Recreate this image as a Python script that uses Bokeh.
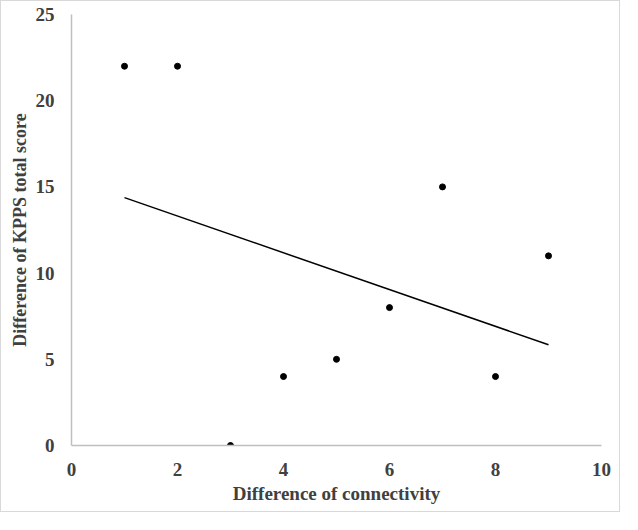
import numpy as np
from bokeh.plotting import figure
from bokeh.models import Range1d, FixedTicker, ColumnDataSource
from bokeh.embed import file_html
from bokeh.resources import INLINE

# Data
x_vals = [1, 2, 3, 4, 5, 6, 7, 8, 9]
y_vals = [22, 22, 0, 4, 5, 8, 15, 4, 11]
x_ticks = [0, 2, 4, 6, 8, 10]
y_ticks = [0, 5, 10, 15, 20, 25]
x_title = "Difference of connectivity"
y_title = "Difference of KPPS total score"

FONT = "Liberation Serif"
TXT = "#404040"
AX = "#bfbfbf"

p = figure(width=620, height=512, output_backend="svg", toolbar_location=None,
           x_range=Range1d(0, 10), y_range=Range1d(0, 25),
           min_border_left=70, min_border_right=20, min_border_top=13, min_border_bottom=68)
p.styles = {"border": "1px solid #d9d9d9"}
p.outline_line_color = None
p.xgrid.grid_line_color = None
p.ygrid.grid_line_color = None

for ax, ticks in ((p.xaxis[0], x_ticks), (p.yaxis[0], y_ticks)):
    ax.ticker = FixedTicker(ticks=ticks)
    ax.axis_line_color = AX
    ax.axis_line_width = 1.5
    ax.major_tick_line_color = None
    ax.minor_tick_line_color = None
    ax.major_label_text_font = FONT
    ax.major_label_text_font_style = "bold"
    ax.major_label_text_font_size = "19px"
    ax.major_label_text_color = TXT
    ax.axis_label_text_font = FONT
    ax.axis_label_text_font_style = "bold"
    ax.axis_label_text_color = TXT

p.xaxis.axis_label = x_title
p.yaxis.axis_label = y_title
p.xaxis.axis_label_text_font_size = "19px"
p.yaxis.axis_label_text_font_size = "18px"
p.xaxis.major_label_standoff = 11
p.yaxis.major_label_standoff = 11
p.xaxis.axis_label_standoff = 4
p.yaxis.axis_label_standoff = 3

# linear trendline from the data
slope, intercept = np.polyfit(x_vals, y_vals, 1)
xl = [min(x_vals), max(x_vals)]
yl = [slope * v + intercept for v in xl]
p.line(xl, yl, line_color="black", line_width=1.5)

src = ColumnDataSource(dict(x=x_vals, y=y_vals))
p.scatter("x", "y", source=src, size=6, fill_color="black", line_color="black")

open("out.html", "w").write(file_html(p, INLINE))
